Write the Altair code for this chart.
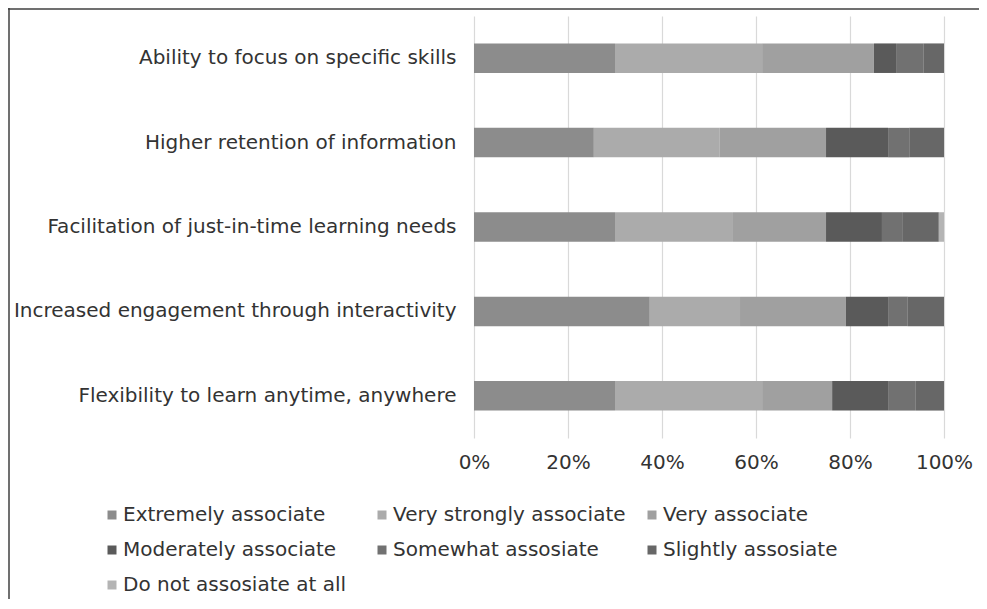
import altair as alt
import pandas as pd

categories = [
    "Ability to focus on specific skills",
    "Higher retention of information",
    "Facilitation of just-in-time learning needs",
    "Increased engagement through interactivity",
    "Flexibility to learn anytime, anywhere",
]
series = [
    "Extremely associate",
    "Very strongly associate",
    "Very associate",
    "Moderately associate",
    "Somewhat assosiate",
    "Slightly assosiate",
    "Do not assosiate at all",
]
colors = ["#8c8c8c", "#ababab", "#a0a0a0", "#5a5a5a", "#717171", "#676767", "#b4b4b4"]

# percentages per category, in series order
ability = [30.0, 31.3, 23.8, 4.7, 5.9, 4.3, 0.0]
retention = [25.5, 26.8, 22.6, 13.2, 4.5, 7.4, 0.0]
facilitation = [30.0, 25.1, 19.8, 11.9, 4.3, 7.8, 1.1]
engagement = [37.4, 19.2, 22.5, 9.0, 4.2, 7.7, 0.0]
flexibility = [30.0, 31.3, 14.9, 11.9, 5.9, 6.0, 0.0]

rows = []
for cat, vals in zip(categories, [ability, retention, facilitation, engagement, flexibility]):
    for i, (s, v) in enumerate(zip(series, vals)):
        rows.append({"category": cat, "series": s, "value": v, "order": i})
df = pd.DataFrame(rows)

FONT = "DejaVu Sans"

bars = alt.Chart(df).mark_bar().encode(
    y=alt.Y(
        "category:N",
        sort=categories,
        title=None,
        scale=alt.Scale(paddingInner=0.65, paddingOuter=0.325),
        axis=alt.Axis(
            domain=False, ticks=False, labelPadding=18, labelLimit=600,
            labelFontSize=20, labelFont=FONT, labelColor="#333333", grid=False,
        ),
    ),
    x=alt.X(
        "value:Q",
        stack="normalize",
        title=None,
        scale=alt.Scale(domain=[0, 1], nice=False),
        axis=alt.Axis(
            values=[0, 0.2, 0.4, 0.6, 0.8, 1.0], format=".0%", domain=False,
            ticks=False, labelPadding=14, labelFontSize=20, labelFont=FONT,
            labelColor="#333333", labelFlush=False, grid=True,
            gridColor="#d9d9d9", gridWidth=1.2,
        ),
    ),
    color=alt.Color(
        "series:N",
        sort=series,
        scale=alt.Scale(domain=series, range=colors),
        legend=alt.Legend(
            title=None, orient="none", legendX=-372, legendY=489, columns=3,
            direction="horizontal", gridAlign="all", columnPadding=16,
            rowPadding=15, symbolType="square", symbolSize=81,
            symbolStrokeWidth=0, labelOffset=1, labelFontSize=20,
            labelFont=FONT, labelColor="#333333", labelLimit=600,
        ),
    ),
    order=alt.Order("order:Q"),
)

frame_top = alt.Chart(pd.DataFrame({"k": [0]})).mark_rule(
    color="#404040", strokeWidth=1.5
).encode(x=alt.value(-466), x2=alt.value(530), y=alt.value(-7))

frame_left = alt.Chart(pd.DataFrame({"k": [0]})).mark_rule(
    color="#404040", strokeWidth=1.5
).encode(x=alt.value(-465), y=alt.value(-8), y2=alt.value(600))

chart = alt.layer(bars, frame_top, frame_left).properties(
    width=470,
    height=422,
    autosize=alt.AutoSizeParams(type="none"),
    padding={"left": 466, "top": 8, "right": 35, "bottom": 161},
).configure_view(stroke=None)

chart.save("out.html", embed_options={"renderer": "svg", "actions": False})
